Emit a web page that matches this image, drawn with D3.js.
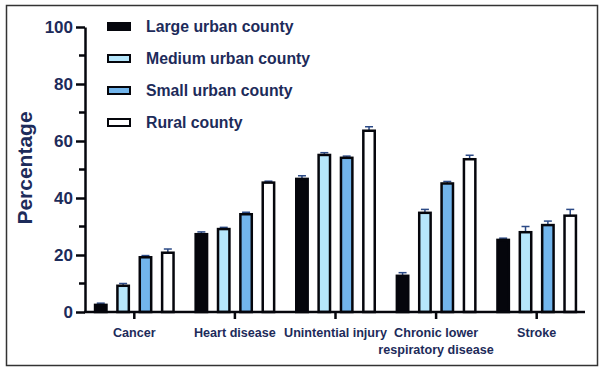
<!DOCTYPE html>
<html>
<head>
<meta charset="utf-8">
<script src="https://cdn.jsdelivr.net/npm/d3@7"></script>
<style>
  body { margin: 0; background: #fff; }
  svg { font-family: "Liberation Sans", Arial, sans-serif; }
</style>
</head>
<body>
<div class="chart"></div>
<script>
var width = 602;
var height = 372;

// data
var categories = ["Cancer", "Heart disease", "Unintential injury", "Chronic lower respiratory disease", "Stroke"];
var series = ["Large urban county", "Medium urban county", "Small urban county", "Rural county"];
var large = [2.5, 27.3, 46.7, 12.7, 25.3];
var medium = [9.2, 29.1, 55.1, 34.8, 28.0];
var small = [19.2, 34.3, 54.1, 45.1, 30.5];
var rural = [20.8, 45.4, 63.6, 53.6, 33.8];
var largeErr = [0.6, 0.8, 1.1, 1.1, 0.6];
var mediumErr = [0.8, 0.6, 0.8, 1.2, 2.0];
var smallErr = [0.6, 0.7, 0.6, 0.7, 1.4];
var ruralErr = [1.3, 0.5, 1.4, 1.4, 2.2];
var yTicks = [0, 20, 40, 60, 80, 100];
var colors = ["#05060c", "#b6e6fb", "#72b5ec", "#ffffff"];

var values = [large, medium, small, rural];
var errors = [largeErr, mediumErr, smallErr, ruralErr];

var navy = "#1d2b5a";

var svg = d3
  .select(".chart")
  .append("svg")
  .attr("width", width)
  .attr("height", height);

// frame
svg
  .append("rect")
  .attr("x", 6.5)
  .attr("y", 5.5)
  .attr("width", 591)
  .attr("height", 360)
  .attr("fill", "none")
  .attr("stroke", "#333")
  .attr("stroke-width", 1.5);

var y = d3.scaleLinear().domain([0, 100]).range([312, 27]);

var x0 = d3
  .scaleBand()
  .domain(categories)
  .range([84, 587])
  .paddingInner(0.2)
  .paddingOuter(0.1);

var x1 = d3
  .scaleBand()
  .domain(series)
  .range([0, x0.bandwidth()])
  .paddingInner(0.4);

// build rows for the bars
var rows = [];
categories.forEach((c, i) => {
  series.forEach((s, j) => {
    rows.push({ cat: c, ser: s, j: j, v: values[j][i], e: errors[j][i] });
  });
});

// error bars (upper only)
var err = svg.append("g").attr("class", "errors");
rows.forEach((d) => {
  var cx = x0(d.cat) + x1(d.ser) + x1.bandwidth() / 2;
  err
    .append("line")
    .attr("x1", cx)
    .attr("x2", cx)
    .attr("y1", y(d.v))
    .attr("y2", y(d.v + d.e))
    .attr("stroke", "#2c4a86")
    .attr("stroke-width", 1.5);
  err
    .append("line")
    .attr("x1", cx - 4)
    .attr("x2", cx + 4)
    .attr("y1", y(d.v + d.e))
    .attr("y2", y(d.v + d.e))
    .attr("stroke", "#2c4a86")
    .attr("stroke-width", 1.5);
});

// bars
svg
  .append("g")
  .attr("class", "bars")
  .selectAll("rect")
  .data(rows)
  .enter()
  .append("rect")
  .attr("x", (d) => x0(d.cat) + x1(d.ser) + 1)
  .attr("y", (d) => y(d.v))
  .attr("width", x1.bandwidth() - 2)
  .attr("height", (d) => y(0) - y(d.v))
  .attr("fill", (d) => colors[d.j])
  .attr("stroke", "#05060c")
  .attr("stroke-width", 2.5);

// y axis
var yAxis = d3
  .axisLeft(y)
  .tickValues(yTicks)
  .tickSize(9)
  .tickPadding(3)
  .tickSizeOuter(0);

var yAxisDraw = svg
  .append("g")
  .attr("class", "y axis")
  .attr("transform", "translate(85,0)")
  .call(yAxis);

yAxisDraw.select(".domain").attr("stroke", "#05060c").attr("stroke-width", 2.5);
yAxisDraw.selectAll(".tick line").attr("stroke", "#05060c").attr("stroke-width", 2.5);
yAxisDraw
  .selectAll("text")
  .attr("fill", navy)
  .style("font-size", "17px")
  .style("font-weight", "bold");

// minor ticks
yAxisDraw
  .selectAll(".minor")
  .data([10, 30, 50, 70, 90])
  .enter()
  .append("line")
  .attr("class", "minor")
  .attr("x1", -6)
  .attr("x2", 0)
  .attr("y1", (d) => y(d))
  .attr("y2", (d) => y(d))
  .attr("stroke", "#05060c")
  .attr("stroke-width", 2.5);

// x axis
var xAxis = d3.axisBottom(x0).tickSize(7).tickSizeOuter(0).tickFormat("");
var xAxisDraw = svg
  .append("g")
  .attr("class", "x axis")
  .attr("transform", "translate(0,312)")
  .call(xAxis);

xAxisDraw
  .select(".domain")
  .attr("d", "M84,0H585")
  .attr("stroke", "#05060c")
  .attr("stroke-width", 2.5);
xAxisDraw.selectAll(".tick line").attr("stroke", "#05060c").attr("stroke-width", 2.5);

// category labels, wrapped by hand
var labelLines = {
  "Chronic lower respiratory disease": ["Chronic lower", "respiratory disease"]
};
categories.forEach((c) => {
  var lines = labelLines[c] || [c];
  var t = svg
    .append("text")
    .attr("x", x0(c) + x0.bandwidth() / 2)
    .attr("y", 337)
    .attr("text-anchor", "middle")
    .attr("fill", navy)
    .style("font-size", "12.6px")
    .style("font-weight", "bold");
  lines.forEach((l, i) => {
    t.append("tspan")
      .attr("x", x0(c) + x0.bandwidth() / 2)
      .attr("dy", i === 0 ? 0 : "1.35em")
      .text(l);
  });
});

// y axis title
svg
  .append("text")
  .attr("transform", "translate(32,168) rotate(-90)")
  .attr("text-anchor", "middle")
  .attr("fill", navy)
  .style("font-size", "21px")
  .style("font-weight", "bold")
  .text("Percentage");

// legend
var legend = svg
  .append("g")
  .attr("class", "legend")
  .selectAll("g")
  .data(series)
  .enter()
  .append("g")
  .attr("transform", (d, i) => `translate(108,${26.5 + i * 32})`);

legend
  .append("rect")
  .attr("x", 0)
  .attr("y", -3.5)
  .attr("width", 22)
  .attr("height", 7)
  .attr("fill", (d, i) => colors[i])
  .attr("stroke", "#05060c")
  .attr("stroke-width", 2);

legend
  .append("text")
  .attr("x", 38)
  .attr("y", 0)
  .attr("dy", "0.36em")
  .attr("fill", navy)
  .style("font-size", "15.8px")
  .style("font-weight", "bold")
  .text((d) => d);
</script>
</body>
</html>
